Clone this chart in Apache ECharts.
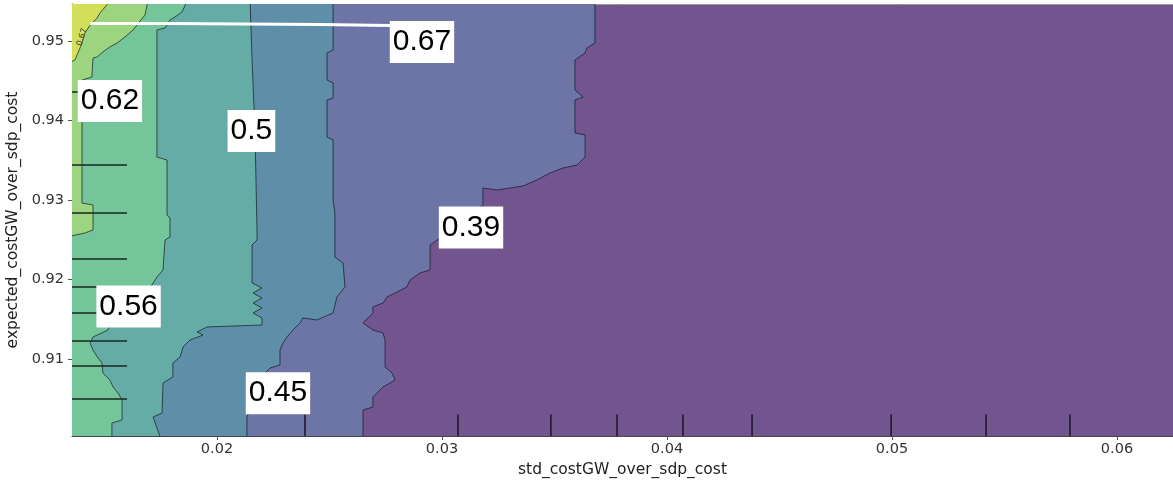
<!DOCTYPE html>
<html><head><meta charset="utf-8">
<script src="https://cdn.jsdelivr.net/npm/echarts@6/dist/echarts.min.js"></script>
<style>html,body{margin:0;padding:0;background:#fff;}#c{width:1173px;height:480px;}</style>
</head><body><div id="c"></div>
<script>
// ---- axis ranges & tick labels ----
const X_RANGE = [0.013556, 0.062489];
const Y_RANGE = [0.900314, 0.954654];
const xTicks = [0.02, 0.03, 0.04, 0.05, 0.06];
const yTicks = [0.91, 0.92, 0.93, 0.94, 0.95];

// ---- contour boundaries [x, y] (higher level lies to the left) ----
const contour067 = [[0.01524,0.9550],[0.0148,0.95352],[0.01467,0.95289],[0.01436,0.95201],[0.01413,0.95101],[0.014,0.94975],[0.01382,0.94849],[0.01369,0.94761],[0.0135,0.94736]];
const contour062 = [[0.01693,0.9550],[0.0168,0.95327],[0.01644,0.95201],[0.01627,0.95138],[0.01591,0.9505],[0.01556,0.94975],[0.01524,0.94925],[0.01493,0.94862],[0.01467,0.94799],[0.01449,0.94786],[0.01444,0.94547],[0.014,0.94509],[0.014,0.92962],[0.01449,0.92937],[0.01449,0.92623],[0.01413,0.92585],[0.0135,0.92547]];
const contour056 = [[0.01867,0.9550],[0.01844,0.95365],[0.01813,0.95302],[0.01791,0.95264],[0.01769,0.95164],[0.01733,0.95138],[0.01733,0.93541],[0.01778,0.93503],[0.01778,0.92811],[0.01791,0.92774],[0.01791,0.92535],[0.01769,0.92497],[0.0176,0.9212],[0.01733,0.92031],[0.01711,0.91931],[0.01591,0.91679],[0.01524,0.91428],[0.01516,0.91365],[0.01449,0.91277],[0.01436,0.91201],[0.01449,0.91113],[0.01471,0.91013],[0.01489,0.9095],[0.01493,0.90824],[0.01524,0.90736],[0.01538,0.90648],[0.0156,0.90572],[0.01578,0.90484],[0.01578,0.90233],[0.01533,0.90195],[0.01533,0.8995]];
const contour050 = [[0.02147,0.9550],[0.02156,0.94761],[0.02169,0.93843],[0.02178,0.92585],[0.02178,0.92497],[0.02156,0.92434],[0.02156,0.91956],[0.022,0.91893],[0.0216,0.9183],[0.022,0.91767],[0.0216,0.91704],[0.022,0.91642],[0.0216,0.91579],[0.022,0.91516],[0.022,0.91428],[0.01956,0.91403],[0.01911,0.9134],[0.01938,0.91302],[0.0188,0.91239],[0.01849,0.91151],[0.01836,0.91025],[0.01804,0.9095],[0.01804,0.90774],[0.0176,0.90698],[0.01756,0.90321],[0.01716,0.9027],[0.01756,0.8995]];
const contour045 = [[0.02516,0.9550],[0.02516,0.94887],[0.02489,0.94849],[0.02489,0.94509],[0.02516,0.94472],[0.02516,0.94283],[0.02489,0.94258],[0.02489,0.93792],[0.02516,0.93755],[0.02516,0.93],[0.02524,0.92836],[0.02524,0.92283],[0.0256,0.92208],[0.02569,0.91906],[0.02533,0.9178],[0.02516,0.91579],[0.02444,0.91491],[0.02382,0.91516],[0.02369,0.91453],[0.02338,0.91365],[0.02311,0.91277],[0.02293,0.91201],[0.0228,0.91113],[0.0228,0.90925],[0.02236,0.90887],[0.02191,0.90761],[0.02169,0.90547],[0.02147,0.90358],[0.02133,0.9027],[0.02133,0.8995]];
const contour039 = [[0.0368,0.9550],[0.0368,0.94975],[0.03644,0.94912],[0.03636,0.94849],[0.03591,0.94761],[0.03591,0.94384],[0.03627,0.94296],[0.03591,0.94258],[0.03591,0.93843],[0.03636,0.93818],[0.03636,0.93541],[0.036,0.9344],[0.03538,0.93403],[0.0348,0.9334],[0.03422,0.93252],[0.0336,0.93176],[0.03244,0.93126],[0.03182,0.93151],[0.03182,0.92937],[0.0308,0.92723],[0.02978,0.92497],[0.02947,0.92434],[0.02947,0.9212],[0.02902,0.92082],[0.02858,0.91994],[0.02844,0.91906],[0.028,0.91843],[0.02756,0.9178],[0.02738,0.91704],[0.02693,0.91654],[0.02693,0.91579],[0.02649,0.91453],[0.02693,0.91365],[0.02738,0.91327],[0.02747,0.91239],[0.02747,0.90899],[0.02778,0.90824],[0.02791,0.90736],[0.02769,0.90698],[0.02738,0.90648],[0.02693,0.90522],[0.02693,0.90396],[0.02649,0.90358],[0.02649,0.8995]];

// ---- deciles (rug marks) ----
const xDeciles = [0.02391, 0.03071, 0.03484, 0.03778, 0.04071, 0.04378, 0.04996, 0.05418, 0.05791];
const yDeciles = [0.94359, 0.93440, 0.92837, 0.92258, 0.91906, 0.91579, 0.91226, 0.90912, 0.90497];

// ---- contour labels [x, y, text] ----
const contourLabels = [
  [0.02911, 0.94987, '0.67'],
  [0.01524, 0.94245, '0.62'],
  [0.02153, 0.93868, '0.5'],
  [0.01607, 0.91660, '0.56'],
  [0.03129, 0.92654, '0.39'],
  [0.02271, 0.90570, '0.45']
];
const smallLabels = [[0.01400, 0.95050, '0.67']];
const labelLeader = [[0.01436,0.95220],[0.01782,0.95220],[0.01782,0.95208],[0.02458,0.95208],[0.02458,0.95195],[0.02769,0.95195]];

// ---- styles ----
const contourPaths = [contour067, contour062, contour056, contour050, contour045, contour039];
const fillColors = ['#d3df5b', '#9cd480', '#75c59b', '#66aca6', '#5f8ea8', '#6d74a6'];
const baseColor = '#72558f';

const chart = echarts.init(document.getElementById('c'), null, {renderer: 'canvas'});

function clipRect(cs) { return {type: 'rect', shape: {x: cs.x, y: cs.y, width: cs.width, height: cs.height}}; }

function renderContour(params, api) {
  const k = api.value(0);
  const cs = params.coordSys;
  const pts = contourPaths[k].map(p => api.coord(p));
  const last = pts[pts.length - 1];
  const left = cs.x - 12, top = cs.y - 12;
  const poly = pts.concat([[left, last[1]], [left, top], [pts[0][0], top]]);
  return {
    type: 'group',
    clipPath: clipRect(cs),
    children: [
      {type: 'polygon', shape: {points: poly}, style: {fill: fillColors[k]}},
      {type: 'polyline', shape: {points: pts}, style: {stroke: 'rgba(15,20,30,0.75)', lineWidth: 0.9, fill: null}}
    ]
  };
}

const bigLabel = {
  show: true, position: 'inside', formatter: p => p.value[2],
  fontSize: 30, fontFamily: 'Liberation Sans', color: '#000', opacity: 1,
  backgroundColor: '#ffffff', padding: [6, 3, 6, 3]
};

const axisTxt = {fontFamily: 'DejaVu Sans', color: '#333'};

chart.setOption({
  animation: false,
  grid: {left: 72, right: 0, top: 4, bottom: 44, show: true, backgroundColor: baseColor, borderWidth: 0,
         outerBoundsMode: 'none', containLabel: false},
  xAxis: [{
    type: 'value', min: X_RANGE[0], max: X_RANGE[1],
    splitLine: {show: false},
    axisLine: {show: true, onZero: false, lineStyle: {color: '#444', width: 1}},
    axisTick: {show: true, customValues: xTicks, length: 4, lineStyle: {color: '#555'}},
    axisLabel: Object.assign({customValues: xTicks, formatter: v => v.toFixed(2), fontSize: 14.5, margin: 6}, axisTxt),
    name: 'std_costGW_over_sdp_cost', nameLocation: 'middle', nameGap: 26,
    nameTextStyle: Object.assign({fontSize: 15.5}, axisTxt, {color: '#222'})
  }, {
    type: 'value', position: 'top', min: X_RANGE[0], max: X_RANGE[1],
    splitLine: {show: false}, axisTick: {show: false}, axisLabel: {show: false},
    axisLine: {show: true, lineStyle: {color: '#999', width: 1}}
  }],
  yAxis: {
    type: 'value', min: Y_RANGE[0], max: Y_RANGE[1],
    splitLine: {show: false},
    axisLine: {show: true, onZero: false, lineStyle: {color: '#444', width: 1}},
    axisTick: {show: true, customValues: yTicks, length: 4, lineStyle: {color: '#555'}},
    axisLabel: Object.assign({customValues: yTicks, formatter: v => v.toFixed(2), fontSize: 14.5, margin: 8}, axisTxt),
    name: 'expected_costGW_over_sdp_cost', nameLocation: 'middle', nameGap: 45, nameRotate: 90,
    nameTextStyle: Object.assign({fontSize: 15.5}, axisTxt, {color: '#222'})
  },
  series: [
    {
      type: 'custom', z: 1, silent: true,
      renderItem: renderContour,
      data: [[5], [4], [3], [2], [1], [0]]
    },
    {
      type: 'custom', z: 2, silent: true,
      renderItem: (params, api) => {
        const cs = params.coordSys;
        const px = api.coord([api.value(0), Y_RANGE[0]])[0];
        const yb = cs.y + cs.height;
        return {type: 'line', shape: {x1: px, y1: yb, x2: px, y2: yb - cs.height * 0.05},
                style: {stroke: '#1a1424', lineWidth: 1.5}};
      },
      data: xDeciles.map(v => [v])
    },
    {
      type: 'custom', z: 2, silent: true,
      renderItem: (params, api) => {
        const cs = params.coordSys;
        const py = api.coord([X_RANGE[0], api.value(1)])[1];
        return {type: 'line', shape: {x1: cs.x, y1: py, x2: cs.x + cs.width * 0.05, y2: py},
                style: {stroke: '#1a2420', lineWidth: 1.5}};
      },
      data: yDeciles.map(v => [X_RANGE[0], v])
    },
    {
      type: 'line', z: 4, silent: true, symbol: 'none',
      lineStyle: {color: '#fff', width: 3},
      data: labelLeader
    },
    {
      type: 'scatter', z: 5, silent: true, symbolSize: 1,
      itemStyle: {color: 'rgba(0,0,0,0)', opacity: 1},
      label: bigLabel,
      data: contourLabels
    },
    {
      type: 'scatter', z: 5, silent: true, symbolSize: 1,
      itemStyle: {color: 'rgba(0,0,0,0)', opacity: 1},
      label: {show: true, position: 'inside', formatter: p => p.value[2], fontSize: 8,
              fontFamily: 'DejaVu Sans', color: '#333', rotate: 72},
      data: smallLabels
    }
  ]
});
</script></body></html>
